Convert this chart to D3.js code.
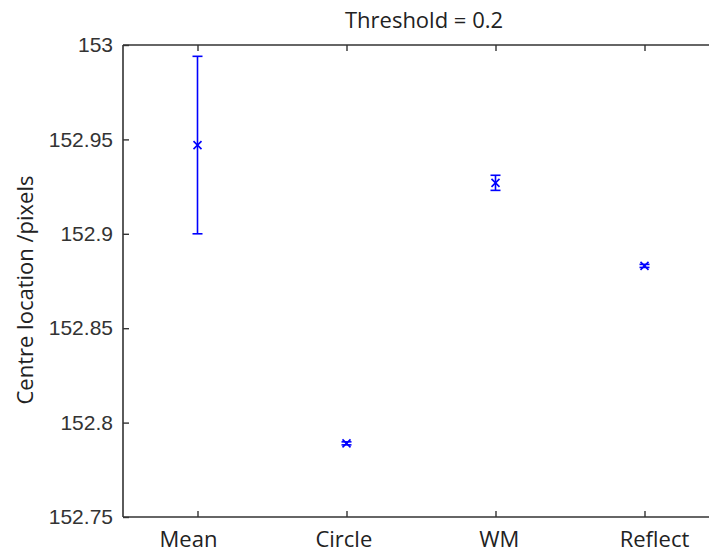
<!DOCTYPE html>
<html><head><meta charset="utf-8">
<script src="https://cdn.jsdelivr.net/npm/d3@7"></script>
<style>body{margin:0;background:#fff;}svg{display:block;}</style>
</head><body>
<script>
const categories = ["Mean", "Circle", "WM", "Reflect"];
const means = [152.947, 152.789, 152.927, 152.883];
const errors = [0.047, 0.0008, 0.004, 0.0008];
const yTicks = [152.75, 152.8, 152.85, 152.9, 152.95, 153];
const yTickLabels = ["152.75", "152.8", "152.85", "152.9", "152.95", "153"];
const title = "Threshold = 0.2";
const yLabel = "Centre location /pixels";

const W = 709, H = 552;
const m = {left: 123, top: 45, right: 719, bottom: 517};
const svg = d3.select("body").append("svg").attr("width", W).attr("height", H);

const x = d3.scaleLinear().domain([0.5, 4.5]).range([m.left, m.right]);
// label placement scale (labels in the reference are spread slightly wider than ticks)
const xLab = d3.scaleLinear().domain([1, 4]).range([188, 654]);
const y = d3.scaleLinear().domain([152.75, 153]).range([m.bottom, m.top]);
const axisColor = "#333";

// box lines
svg.append("line").attr("x1", m.left).attr("x2", m.right).attr("y1", m.bottom).attr("y2", m.bottom).attr("stroke", axisColor).attr("stroke-width", 1.6);
svg.append("line").attr("x1", m.left).attr("x2", m.right).attr("y1", m.top).attr("y2", m.top).attr("stroke", axisColor).attr("stroke-width", 1.6);
svg.append("line").attr("x1", m.left).attr("x2", m.left).attr("y1", m.top).attr("y2", m.bottom).attr("stroke", axisColor).attr("stroke-width", 1.6);

// axes via d3
const xIdx = categories.map((d, i) => i + 1);
const xAxis = d3.axisBottom(x).tickValues(xIdx).tickFormat((d) => categories[d - 1]).tickSizeInner(-6).tickSizeOuter(0).tickPadding(14);
const gx = svg.append("g").attr("transform", `translate(0,${m.bottom})`).call(xAxis);
gx.select(".domain").remove();
gx.selectAll(".tick line").attr("stroke", axisColor).attr("stroke-width", 1.4);
gx.selectAll(".tick text").attr("font-family", "'Open Sans', sans-serif").attr("font-size", 22).attr("fill", "#222")
  .attr("x", (d) => xLab(d) - x(d));

const xTop = d3.axisTop(x).tickValues(xIdx).tickFormat("").tickSizeInner(-6).tickSizeOuter(0);
const gxt = svg.append("g").attr("transform", `translate(0,${m.top})`).call(xTop);
gxt.select(".domain").remove();
gxt.selectAll(".tick line").attr("stroke", axisColor).attr("stroke-width", 1.4);

const yAxis = d3.axisLeft(y).tickValues(yTicks).tickFormat((d, i) => yTickLabels[i]).tickSizeInner(-6).tickSizeOuter(0).tickPadding(10);
const gy = svg.append("g").attr("transform", `translate(${m.left},0)`).call(yAxis);
gy.select(".domain").remove();
gy.selectAll(".tick line").attr("stroke", axisColor).attr("stroke-width", 1.4);
gy.selectAll(".tick text").attr("font-family", "'Liberation Sans', Arial, sans-serif").attr("font-size", 21).attr("fill", "#333");

// title
svg.append("text").attr("x", 424).attr("y", 28).attr("text-anchor", "middle")
  .attr("font-family", "'Open Sans', sans-serif").attr("font-size", 22).attr("fill", "#222").text(title);

// y label
svg.append("text").attr("transform", `translate(33,290) rotate(-90)`).attr("text-anchor", "middle")
  .attr("font-family", "'Open Sans', sans-serif").attr("font-size", 22).attr("fill", "#222").text(yLabel);

// error bars
const blue = "#0000ff";
const g = svg.append("g");
const data = categories.map((c, i) => ({i: i + 1, v: means[i], e: errors[i]}));
const cap = 5;
data.forEach(d => {
  const cx = x(d.i), y1 = y(d.v + d.e), y2 = y(d.v - d.e), cy = y(d.v);
  g.append("line").attr("x1", cx).attr("x2", cx).attr("y1", y1).attr("y2", y2).attr("stroke", blue).attr("stroke-width", 1.6);
  g.append("line").attr("x1", cx - cap).attr("x2", cx + cap).attr("y1", y1).attr("y2", y1).attr("stroke", blue).attr("stroke-width", 1.6);
  g.append("line").attr("x1", cx - cap).attr("x2", cx + cap).attr("y1", y2).attr("y2", y2).attr("stroke", blue).attr("stroke-width", 1.6);
  const s = 4;
  g.append("path").attr("d", `M${cx - s},${cy - s}L${cx + s},${cy + s}M${cx - s},${cy + s}L${cx + s},${cy - s}`)
    .attr("stroke", blue).attr("stroke-width", 1.6).attr("fill", "none");
});
</script>
</body></html>
